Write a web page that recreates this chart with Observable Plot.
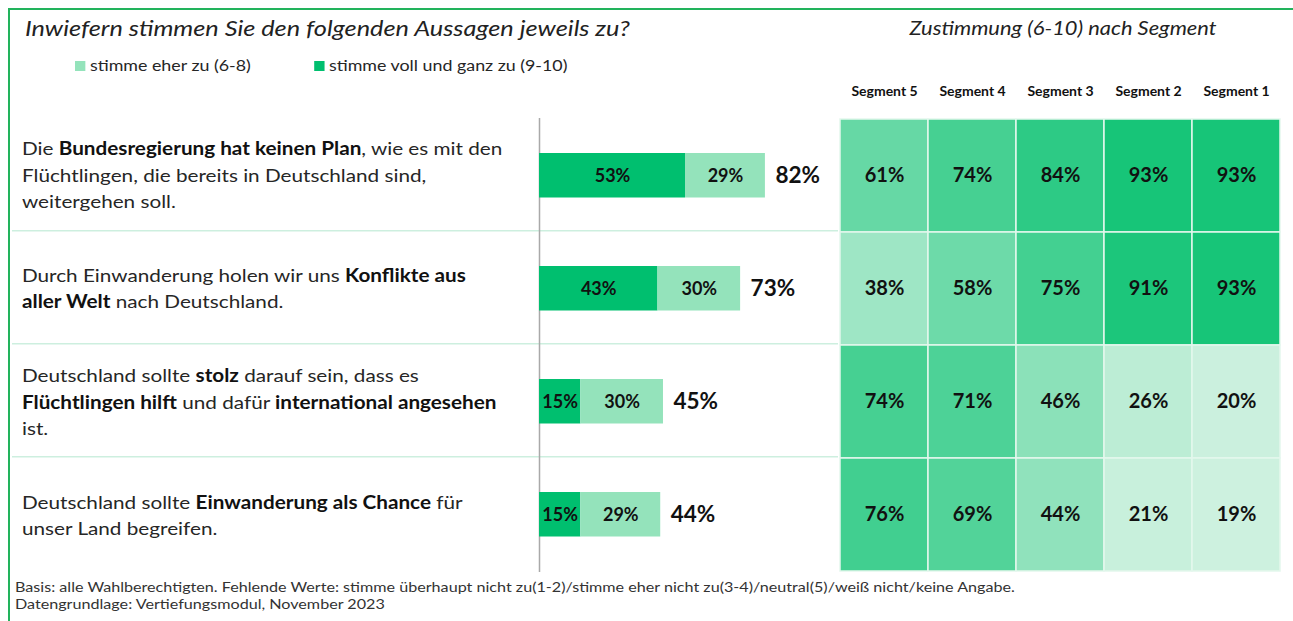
<!DOCTYPE html>
<html>
<head>
<meta charset="utf-8">
<script src="https://cdn.jsdelivr.net/npm/d3@7"></script>
<script src="https://cdn.jsdelivr.net/npm/@observablehq/plot@0.6"></script>
<style>
  html, body { margin: 0; padding: 0; background: #fff; }
  #wrap { position: relative; width: 1293px; height: 621px; overflow: hidden; font-family: Lato, "Open Sans", sans-serif; color: #262626; }
  .abs { position: absolute; white-space: nowrap; }
  .wide { transform: scaleX(1.15); transform-origin: 0 0; }
  #frameTop { left: 8px; top: 8px; width: 1285px; height: 2px; background: #22b35c; }
  #frameLeft { left: 8px; top: 8px; width: 2px; height: 613px; background: #22b35c; }
  #title { left: 25px; top: 14px; font-size: 22px; font-style: italic; color: #222; }
  #rtitle { left: 838px; width: 450px; top: 16px; text-align: center; font-size: 19px; font-style: italic; color: #222; transform: scaleX(1.15); transform-origin: 225px 0; }
  #legend { left: 75px; top: 56px; font-size: 15.5px; color: #262626; }
  .sw { display: inline-block; width: 9px; height: 10px; margin-right: 4px; vertical-align: 0px; }
  .stmt { left: 22px; width: 450px; height: 113.5px; display: flex; align-items: center; font-size: 18px; line-height: 26.5px; color: #262626; }
  .stmt b { color: #111; }
  #foot { left: 15px; top: 579px; font-size: 13.5px; line-height: 17px; color: #333; transform: scaleX(1.195); transform-origin: 0 0; }
  #bars { left: 12px; top: 118px; }
  #heat { left: 838px; top: 80px; }
  #bars text.inbar { font-weight: 700; }
</style>
</head>
<body>
<div id="wrap">
  <div class="abs" id="frameTop"></div>
  <div class="abs" id="frameLeft"></div>
  <div class="abs wide" id="title"></div>
  <div class="abs" id="rtitle"></div>
  <div class="abs wide" id="legend"></div>
  <div id="stmts"></div>
  <div class="abs" id="bars"></div>
  <div class="abs" id="heat"></div>
  <div class="abs" id="foot"></div>
</div>
<script>
// ---- data ----
const titleText = "Inwiefern stimmen Sie den folgenden Aussagen jeweils zu?";
const rightTitle = "Zustimmung (6-10) nach Segment";
const legendLabels = ["stimme eher zu (6-8)", "stimme voll und ganz zu (9-10)"];
const statementIds = ["s1", "s2", "s3", "s4"];
// ** marks bold, | marks line break
const statements = [
  "Die **Bundesregierung hat keinen Plan**, wie es mit den|Flüchtlingen, die bereits in Deutschland sind,|weitergehen soll.",
  "Durch Einwanderung holen wir uns **Konflikte aus**|**aller Welt** nach Deutschland.",
  "Deutschland sollte **stolz** darauf sein, dass es|**Flüchtlingen hilft** und dafür **international angesehen**|ist.",
  "Deutschland sollte **Einwanderung als Chance** für|unser Land begreifen."
];
const vollUndGanz = [53, 43, 15, 15];
const eherZu = [29, 30, 30, 29];
const totals = [82, 73, 45, 44];
const segments = ["Segment 5", "Segment 4", "Segment 3", "Segment 2", "Segment 1"];
const segmentValues = [
  [61, 74, 84, 93, 93],
  [38, 58, 75, 91, 93],
  [74, 71, 46, 26, 20],
  [76, 69, 44, 21, 19]
];
const footLines = [
  "Basis: alle Wahlberechtigten. Fehlende Werte: stimme überhaupt nicht zu(1-2)/stimme eher nicht zu(3-4)/neutral(5)/weiß nicht/keine Angabe.",
  "Datengrundlage: Vertiefungsmodul, November 2023"
];

// ---- colours ----
const cVoll = "#00bf6f", cEher = "#94e3bb";
const heatLow = "#cdf1df", heatHigh = "#17c578";

// ---- text parts ----
document.getElementById("title").textContent = titleText;
document.getElementById("rtitle").textContent = rightTitle;
const lg = document.getElementById("legend");
lg.innerHTML =
  `<span class="sw" style="background:${cEher}"></span><span>${legendLabels[0]}</span>` +
  `<span style="display:inline-block;width:55px"></span>` +
  `<span class="sw" style="background:${cVoll}"></span><span>${legendLabels[1]}</span>`;

const bandH = 454 / statementIds.length;
const st = document.getElementById("stmts");
statements.forEach((s, i) => {
  const d = document.createElement("div");
  d.className = "abs stmt wide";
  d.style.top = (118 + i * bandH) + "px";
  const html = s.split("|").map(line => line.replace(/\*\*(.+?)\*\*/g, "<b>$1</b>")).join("<br>");
  d.innerHTML = `<div>${html}</div>`;
  st.appendChild(d);
});
document.getElementById("foot").innerHTML = footLines.join("<br>");

// ---- bar chart ----
const pxPer = 2.755; // px per percentage point
const barsWidth = 826, zeroAt = 527;
const xMin = -zeroAt / pxPer, xMax = (barsWidth - zeroAt) / pxPer;
const barData = [];
statementIds.forEach((id, i) => {
  barData.push({id, kind: "voll", value: vollUndGanz[i]});
  barData.push({id, kind: "eher", value: eherZu[i]});
});
const totalData = statementIds.map((id, i) => ({id, total: totals[i]}));

const bars = Plot.plot({
  width: barsWidth, height: 454,
  marginLeft: 0, marginRight: 0, marginTop: 0, marginBottom: 0,
  style: {fontFamily: "Lato, sans-serif", background: "transparent"},
  x: {domain: [xMin, xMax], axis: null},
  y: {domain: statementIds, padding: 0, axis: null},
  color: {domain: ["voll", "eher"], range: [cVoll, cEher]},
  marks: [
    Plot.barX(statementIds.slice(1), {y: d => d, x1: xMin, x2: xMax, fill: "#cdefdf", insetBottom: bandH - 2, dy: -2}),
    Plot.ruleX([0], {stroke: "#a9a9a9", strokeWidth: 1.5}),
    Plot.barX(barData, {x: "value", y: "id", fill: "kind", insetTop: 34, insetBottom: 34.5}),
    Plot.text(barData, {...Plot.stackX({x: "value", y: "id", z: "kind"}), text: d => d.value + "%", fontSize: 18, fontWeight: "bold", fill: "#111", className: "inbar"}),
    Plot.text(totalData, {x: "total", y: "id", text: d => d.total + "%", dx: 10, textAnchor: "start", fontSize: 22.5, fontWeight: "bold", fill: "#111"})
  ]
});
document.getElementById("bars").appendChild(bars);

// ---- heatmap ----
const heatData = [];
statementIds.forEach((id, i) => segments.forEach((seg, j) => heatData.push({id, seg, value: segmentValues[i][j]})));
const heat = Plot.plot({
  width: 443, height: 454 + 38,
  marginLeft: 0, marginRight: 0, marginTop: 38, marginBottom: 0,
  style: {fontFamily: "Lato, sans-serif", background: "transparent"},
  x: {domain: segments, padding: 0, axis: null},
  y: {domain: statementIds, padding: 0, axis: null},
  color: {type: "linear", domain: [19, 93], range: [heatLow, heatHigh]},
  marks: [
    Plot.cell(heatData, {x: "seg", y: "id", fill: "value", stroke: "#e4f7ed", strokeWidth: 1.5}),
    Plot.text(heatData, {x: "seg", y: "id", text: d => d.value + "%", fontSize: 20, fontWeight: "bold", fill: "#111"}),
    Plot.axisX({anchor: "top", tickSize: 0, tickPadding: 23, fontSize: 14, fontWeight: "bold", label: null, color: "#111"})
  ]
});
document.getElementById("heat").appendChild(heat);
</script>
</body>
</html>
